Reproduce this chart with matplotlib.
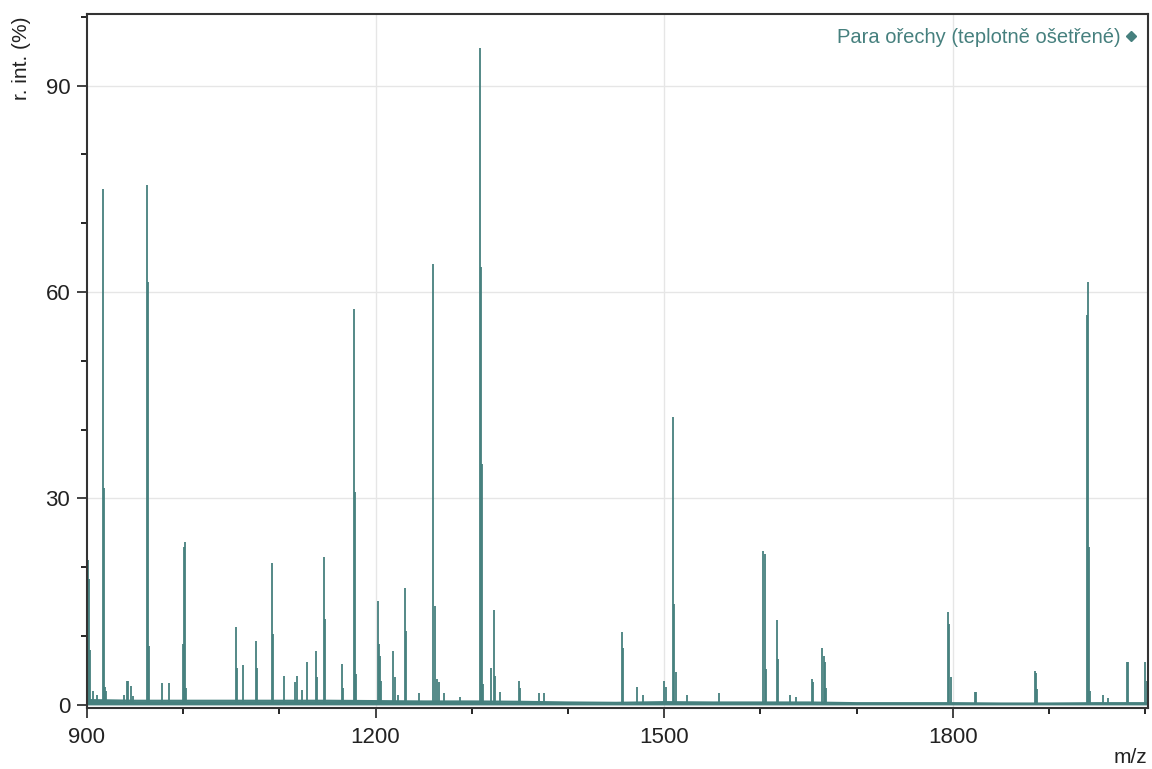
import matplotlib
matplotlib.use("Agg")
import matplotlib.pyplot as plt
from matplotlib.ticker import MultipleLocator

plt.rcParams['font.family'] = ['Liberation Sans', 'DejaVu Sans']

# peak list (m/z, relative intensity %)
peak_mz = [900.9, 901.8, 902.8, 906.0, 910.0,
           916.6, 917.6, 918.6, 919.6,
           939.0, 941.6, 942.6, 945.7, 948.0,
           962.4, 963.4, 964.4, 978.0, 985.0,
           999.8, 1000.8, 1001.8, 1002.8,
           1054.9, 1055.9, 1062.0, 1075.6, 1076.6,
           1092.3, 1093.3, 1104.7, 1116.0, 1118.0, 1123.4,
           1128.6, 1138.0, 1139.0, 1146.3, 1147.3,
           1165.0, 1166.0, 1177.5, 1178.5, 1179.5,
           1202.4, 1203.4, 1204.4, 1205.4, 1218.0, 1220.0, 1223.5,
           1230.5, 1231.5, 1245.0,
           1259.6, 1261.6, 1263.6, 1265.6, 1271.0, 1288.0,
           1308.4, 1309.4, 1310.4, 1311.4,
           1320.0, 1323.0, 1324.0, 1329.0,
           1349.0, 1350.0, 1370.0, 1375.0,
           1456.0, 1457.0, 1471.6, 1478.0,
           1499.7, 1501.7, 1509.0, 1510.0, 1512.0, 1524.0, 1556.8,
           1602.6, 1604.6, 1605.6, 1617.0, 1618.0, 1631.0, 1637.0,
           1653.5, 1654.5, 1663.9, 1665.9, 1666.9, 1667.9,
           1794.8, 1795.8, 1797.8, 1823.0, 1824.0,
           1885.2, 1886.2, 1887.2,
           1939.3, 1940.3, 1941.3, 1942.3, 1956.0, 1961.0,
           1980.9, 1981.9, 1999.6, 2001.6]
peak_int = [21.0, 18.3, 8.0, 2.0, 1.5,
            75.0, 31.5, 2.6, 2.0,
            1.5, 3.5, 3.5, 2.8, 1.3,
            75.5, 61.4, 8.5, 3.2, 3.2,
            8.8, 23.0, 23.7, 2.5,
            11.3, 5.4, 5.8, 9.3, 5.4,
            20.6, 10.3, 4.2, 3.3, 4.2, 2.2,
            6.2, 7.8, 4.0, 21.5, 12.5,
            6.0, 2.5, 57.5, 31.0, 4.5,
            15.1, 8.8, 7.1, 3.5, 7.8, 4.0, 1.5,
            17.0, 10.7, 1.8,
            64.0, 14.4, 3.8, 3.3, 1.7, 1.2,
            95.5, 63.6, 35.0, 3.0,
            5.4, 13.8, 4.2, 1.9,
            3.5, 2.5, 1.7, 1.7,
            10.6, 8.3, 2.6, 1.5,
            3.5, 2.6, 41.8, 14.7, 4.8, 1.5, 1.7,
            22.3, 21.9, 5.2, 12.4, 6.7, 1.5, 1.2,
            3.8, 3.3, 8.3, 7.1, 6.2, 2.5,
            13.5, 11.8, 4.0, 1.9, 1.9,
            4.9, 4.7, 2.3,
            56.7, 61.4, 22.9, 2.0, 1.5, 1.0,
            6.2, 6.2, 6.2, 3.5]

# baseline level under the peaks
base_mz = [900, 950, 1000, 1050, 1100, 1150, 1200, 1250, 1300, 1350,
           1400, 1450, 1500, 1550, 1600, 1650, 1700, 1750, 1800, 1850,
           1900, 1950, 2003]
base_int = [0.7, 0.6, 0.6, 0.6, 0.6, 0.6, 0.55, 0.5, 0.5, 0.45,
            0.35, 0.3, 0.4, 0.35, 0.35, 0.35, 0.25, 0.25, 0.25, 0.2,
            0.2, 0.25, 0.25]

x_ticks = [900, 1200, 1500, 1800]
y_ticks = [0, 30, 60, 90]
series_name = "Para ořechy (teplotně ošetřené)"

color = "#46807e"
tick_font = ['Liberation Sans Narrow', 'Liberation Sans', 'DejaVu Sans']

fig = plt.figure(figsize=(11.52, 7.69), dpi=100)
ax = fig.add_axes([0.0755, 0.0793, 0.921, 0.9025])

ax.fill_between(base_mz, 0, base_int, color=color, lw=0)
ax.plot(base_mz, base_int, color=color, lw=1.6)
ax.vlines(peak_mz, 0, peak_int, color=color, lw=1.3)

ax.set_xlim(900, 2003)
ax.set_ylim(-0.45, 100.4)
ax.set_xticks(x_ticks)
ax.set_yticks(y_ticks)
ax.xaxis.set_minor_locator(MultipleLocator(100))
ax.yaxis.set_minor_locator(MultipleLocator(10))
ax.tick_params(which='major', length=7, width=1.2, colors='#222222')
ax.tick_params(which='minor', length=4, width=1.2)
ax.tick_params(axis='x', pad=7)
ax.tick_params(axis='y', pad=5)
for lab in ax.get_xticklabels() + ax.get_yticklabels():
    lab.set_family(tick_font)
    lab.set_fontsize(16)

for v in x_ticks[1:]:
    ax.axvline(v, color='#e6e6e6', lw=1, zorder=0)
for v in y_ticks[1:]:
    ax.axhline(v, color='#e6e6e6', lw=1, zorder=0)

for s in ax.spines.values():
    s.set_linewidth(1.5)
    s.set_color('#333333')

fig.text(0.0105, 0.979, "r. int. (%)", rotation=90, ha='left', va='top',
         fontsize=15, color='#222222')
fig.text(0.996, 0.002, "m/z", ha='right', va='bottom', fontsize=15,
         color='#222222')

fig.text(0.973, 0.951, series_name, ha='right', va='center', fontsize=14.5,
         color=color)
ax.plot([0.9843], [0.9678], marker='D', ms=5, color=color,
        transform=ax.transAxes, clip_on=False)

fig.savefig("out.png", dpi=100)
